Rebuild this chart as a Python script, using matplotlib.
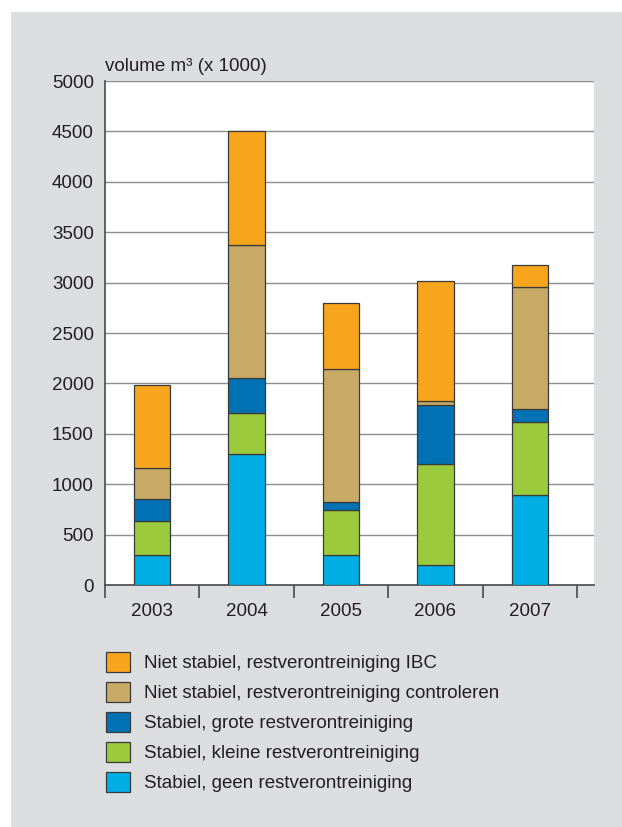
import matplotlib.pyplot as plt
import numpy as np
from matplotlib.patches import Rectangle

plt.rcParams['font.family'] = ['Liberation Sans', 'DejaVu Sans']

years = ['2003', '2004', '2005', '2006', '2007']
geen = [300, 1300, 300, 200, 890]
kleine = [330, 410, 445, 1005, 730]
grote = [220, 340, 80, 580, 130]
controleren = [310, 1320, 1320, 45, 1210]
ibc = [820, 1130, 655, 1190, 210]

series = [
    ('Stabiel, geen restverontreiniging', geen, '#00aee5'),
    ('Stabiel, kleine restverontreiniging', kleine, '#9bca3c'),
    ('Stabiel, grote restverontreiniging', grote, '#0071b3'),
    ('Niet stabiel, restverontreiniging controleren', controleren, '#c6aa66'),
    ('Niet stabiel, restverontreiniging IBC', ibc, '#f8a51e'),
]

txt = '#231f20'
bg = '#dcdddf'

fig = plt.figure(figsize=(6.22, 8.27), dpi=100)
fig.patch.set_facecolor('white')
fig.patches.append(Rectangle((11/622, 0), 1, 1 - 12/827, transform=fig.transFigure,
                             facecolor=bg, edgecolor='none', zorder=-10))

ax = fig.add_axes([105/622, 1 - 585/827, (594-105)/622, (585-81)/827])
ax.set_facecolor('white')

x = np.arange(len(years))
bottom = np.zeros(len(years))
handles = []
for lab, vals, col in series:
    b = ax.bar(x, vals, 0.385, bottom=bottom, color=col, edgecolor='#3a3a3a',
               linewidth=0.9, label=lab, zorder=3)
    bottom += np.array(vals)
    handles.append(b)

ax.set_xlim(-0.5, 4.68)
ax.set_ylim(0, 5000)
ax.set_yticks(np.arange(0, 5001, 500))
ax.yaxis.grid(True, color='#8e8e8e', linewidth=1.0, zorder=0)
ax.set_axisbelow(True)

for s in ['top', 'right']:
    ax.spines[s].set_visible(False)
for s in ['left', 'bottom']:
    ax.spines[s].set_color('#4a4a4a')
    ax.spines[s].set_linewidth(1.2)

ax.set_xticks(x)
ax.set_xticklabels(years)
ax.set_xticks(np.arange(-0.5, 5, 1), minor=True)
ax.tick_params(axis='x', which='major', length=0, pad=13, labelsize=13.5, labelcolor=txt)
ax.tick_params(axis='x', which='minor', length=9, width=1.2, color='#4a4a4a', direction='out')
ax.tick_params(axis='y', length=0, pad=8, labelsize=13.5, labelcolor=txt)

ax.text(0, 1.012, 'volume m³ (x 1000)', transform=ax.transAxes, ha='left', va='bottom',
        fontsize=13.5, color=txt)

leg = fig.legend(handles[::-1], [s[0] for s in series][::-1], loc='upper left',
                 bbox_to_anchor=(93/622, 1 - 639/827), frameon=False,
                 fontsize=13.5, handlelength=1.25, handleheight=1.25,
                 labelspacing=0.52, handletextpad=0.75, borderpad=0.2)
for t in leg.get_texts():
    t.set_color(txt)

fig.savefig('out.png', dpi=100, facecolor=fig.get_facecolor())
